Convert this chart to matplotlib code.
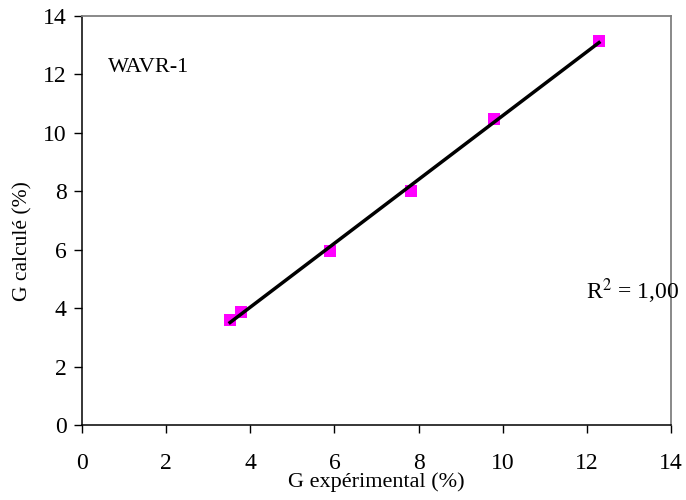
import numpy as np
import matplotlib
matplotlib.use("Agg")
import matplotlib.pyplot as plt

x_exp = [3.52, 3.78, 5.89, 7.81, 9.80, 12.29]
y_calc = [3.60, 3.86, 5.96, 8.02, 10.48, 13.13]
x_ticks = [0, 2, 4, 6, 8, 10, 12, 14]
y_ticks = [0, 2, 4, 6, 8, 10, 12, 14]

plt.rcParams['font.family'] = ['Liberation Serif', 'DejaVu Serif']

fig = plt.figure(figsize=(6.86, 5.0), dpi=100)
ax = fig.add_axes([0.1195, 0.15, 0.8585, 0.818])

slope, intercept = np.polyfit(x_exp, y_calc, 1)
xl = np.array([min(x_exp), max(x_exp)])
ax.plot(xl, slope * xl + intercept, color='black', lw=2.5, zorder=2)
ax.scatter(x_exp, y_calc, marker='s', s=70, color='#FF00FF', zorder=1, linewidths=0)

ax.set_xlim(0, 14)
ax.set_ylim(0, 14)
ax.set_xticks(x_ticks)
ax.set_yticks(y_ticks)
ax.tick_params(direction='out', length=6, width=1, labelsize=17)
ax.tick_params(axis='x', pad=14)
ax.tick_params(axis='y', pad=5)
for s in ['top', 'right']:
    ax.spines[s].set_color('#808080')
    ax.spines[s].set_linewidth(1.3)
for s in ['left', 'bottom']:
    ax.spines[s].set_color('black')
    ax.spines[s].set_linewidth(1.1)

ax.set_xlabel('G expérimental (%)', fontsize=16, va='center')
ax.xaxis.set_label_coords(0.5, -0.14)
ax.set_ylabel('G calculé (%)', fontsize=15.5, va='center')
ax.yaxis.set_label_coords(-0.1, 0.45)

ax.text(0.044, 0.863, 'WAVR-1', transform=ax.transAxes, fontsize=16,
        va='baseline', ha='left')
ax.text(0.856, 0.308, 'R$^2$ = 1,00', transform=ax.transAxes, fontsize=17,
        va='baseline', ha='left', math_fontfamily='stix')

fig.savefig('out.png', dpi=100)
